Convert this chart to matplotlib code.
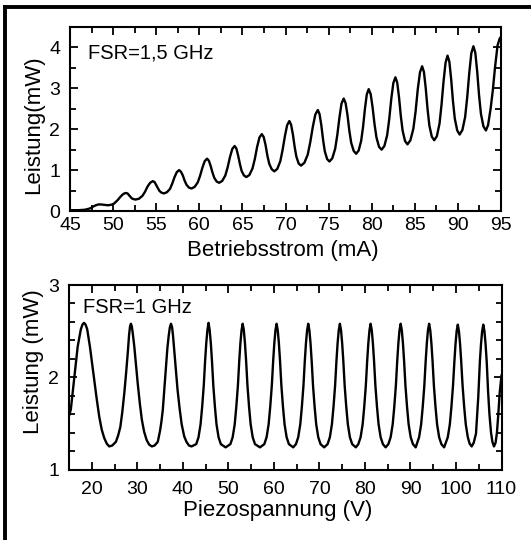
import matplotlib
matplotlib.use("Agg")
import matplotlib.pyplot as plt
from matplotlib.ticker import MultipleLocator, FixedLocator
from matplotlib.lines import Line2D

# ---------------- data ----------------
# Top panel: optical power vs. operating current
current_mA = [45.0, 46.0, 46.7, 47.1, 47.4, 47.7, 48.0, 48.3, 48.6, 49.0, 49.4, 49.7, 49.9,
              50.1, 50.3, 50.5, 50.7, 50.9, 51.1, 51.3, 51.5, 51.67, 51.83, 52.0, 52.16, 52.38, 52.6,
              53.0, 53.4, 53.7, 54.0, 54.3, 54.6, 54.8, 54.99, 55.19, 55.38, 55.64, 55.9,
              56.25, 56.6, 56.86, 57.13, 57.39, 57.65, 57.87, 58.09, 58.3, 58.52, 58.81, 59.1,
              59.46, 59.82, 60.09, 60.36, 60.63, 60.9, 61.11, 61.32, 61.53, 61.74, 62.02, 62.3,
              62.66, 63.02, 63.29, 63.56, 63.83, 64.1, 64.3, 64.5, 64.71, 64.91, 65.18, 65.45,
              65.81, 66.17, 66.44, 66.71, 66.98, 67.25, 67.47, 67.69, 67.9, 68.12, 68.41, 68.7,
              69.05, 69.4, 69.66, 69.93, 70.19, 70.45, 70.65, 70.86, 71.06, 71.26, 71.53, 71.8,
              72.19, 72.58, 72.87, 73.17, 73.46, 73.75, 73.95, 74.16, 74.36, 74.56, 74.83, 75.1,
              75.43, 75.76, 76.01, 76.26, 76.5, 76.75, 76.97, 77.19, 77.4, 77.62, 77.91, 78.2,
              78.49, 78.78, 79.0, 79.22, 79.43, 79.65, 79.88, 80.1, 80.33, 80.55, 80.85, 81.15,
              81.47, 81.79, 82.03, 82.27, 82.51, 82.75, 82.96, 83.17, 83.38, 83.59, 83.87, 84.15,
              84.49, 84.83, 85.09, 85.34, 85.6, 85.85, 86.06, 86.27, 86.48, 86.69, 86.97, 87.25,
              87.56, 87.87, 88.1, 88.34, 88.57, 88.8, 89.01, 89.22, 89.43, 89.64, 89.92, 90.2,
              90.52, 90.84, 91.08, 91.32, 91.56, 91.8, 92.02, 92.24, 92.45, 92.67, 92.96, 93.25,
              93.5, 93.8, 94.05, 94.3, 94.6, 94.85, 95.0]
power_top_mW = [0.02, 0.02, 0.03, 0.05, 0.07, 0.11, 0.14, 0.16, 0.16, 0.15, 0.14, 0.15, 0.16,
                0.18, 0.22, 0.26, 0.31, 0.36, 0.40, 0.43, 0.44, 0.43, 0.39, 0.35, 0.31, 0.29, 0.28,
                0.30, 0.37, 0.47, 0.60, 0.69, 0.73, 0.71, 0.64, 0.56, 0.49, 0.445, 0.43,
                0.46, 0.54, 0.67, 0.83, 0.95, 1.00, 0.96, 0.87, 0.74, 0.64, 0.57, 0.55,
                0.59, 0.70, 0.86, 1.06, 1.22, 1.28, 1.23, 1.10, 0.94, 0.81, 0.72, 0.69,
                0.735, 0.87, 1.07, 1.32, 1.52, 1.59, 1.53, 1.36, 1.15, 0.98, 0.87, 0.83,
                0.88, 1.04, 1.27, 1.57, 1.80, 1.88, 1.81, 1.61, 1.35, 1.15, 1.02, 0.97,
                1.03, 1.22, 1.49, 1.83, 2.10, 2.20, 2.11, 1.87, 1.57, 1.33, 1.16, 1.11,
                1.18, 1.38, 1.68, 2.06, 2.36, 2.47, 2.37, 2.09, 1.74, 1.46, 1.27, 1.21,
                1.29, 1.52, 1.86, 2.29, 2.63, 2.75, 2.64, 2.35, 1.97, 1.67, 1.47, 1.40,
                1.48, 1.72, 2.06, 2.51, 2.85, 2.98, 2.86, 2.54, 2.12, 1.80, 1.57, 1.50,
                1.59, 1.85, 2.24, 2.74, 3.13, 3.27, 3.14, 2.78, 2.32, 1.96, 1.71, 1.63,
                1.73, 2.01, 2.43, 2.97, 3.39, 3.54, 3.40, 3.00, 2.49, 2.09, 1.82, 1.73,
                1.83, 2.14, 2.60, 3.18, 3.63, 3.80, 3.65, 3.22, 2.68, 2.26, 1.97, 1.87,
                1.98, 2.30, 2.78, 3.38, 3.86, 4.03, 3.87, 3.41, 2.84, 2.38, 2.07, 1.97,
                2.10, 2.51, 2.95, 3.50, 4.05, 4.22, 4.26]

# Bottom panel: optical power vs. piezo voltage
piezo_V = [15.0, 15.4, 16.2, 16.9, 17.6, 17.95, 18.3, 18.65, 19.0, 19.6, 20.05, 20.55, 21.1, 21.65,
           22.2, 22.75, 23.3, 23.85, 24.5, 25.3, 25.8, 26.27, 26.7, 27.15, 27.55, 27.9, 28.2, 28.4,
           28.6, 28.8, 29.0, 29.35, 29.7, 30.1, 30.55, 31.0, 31.5, 32.05, 32.6, 33.2, 33.8, 34.5,
           35.0, 35.3, 35.6, 35.95, 36.3, 36.6, 36.9, 37.15, 37.4, 37.65, 37.85, 38.1, 38.45, 38.85,
           39.3, 39.75, 40.3, 40.8, 41.35, 41.9,
           42.95, 43.45, 43.9, 44.25, 44.6, 44.9, 45.15, 45.4, 45.65, 45.9, 46.15, 46.4, 46.7, 47.05,
           47.4, 47.85, 48.35, 49.4,
           50.45, 50.95, 51.4, 51.75, 52.1, 52.4, 52.65, 52.9, 53.15, 53.4, 53.65, 53.9, 54.2, 54.55,
           54.9, 55.35, 55.85, 56.95,
           57.9, 58.4, 58.85, 59.2, 59.55, 59.85, 60.1, 60.35, 60.6, 60.85, 61.1, 61.35, 61.65, 62.0,
           62.35, 62.8, 63.3, 64.25,
           64.85, 65.35, 65.8, 66.15, 66.5, 66.8, 67.05, 67.3, 67.55, 67.8, 68.05, 68.3, 68.6, 68.95,
           69.3, 69.75, 70.25, 71.05,
           71.8, 72.3, 72.75, 73.1, 73.45, 73.75, 74.0, 74.25, 74.5, 74.75, 75.0, 75.25, 75.55, 75.9,
           76.25, 76.7, 77.2, 78.0,
           78.55, 79.05, 79.5, 79.85, 80.2, 80.5, 80.75, 81.0, 81.25, 81.5, 81.75, 82.0, 82.3, 82.65,
           83.0, 83.45, 83.95, 84.55,
           85.15, 85.65, 86.1, 86.45, 86.8, 87.1, 87.35, 87.6, 87.85, 88.1, 88.35, 88.6, 88.9, 89.25,
           89.6, 90.05, 90.55, 91.15,
           91.9, 92.35, 92.7, 93.05, 93.35, 93.6, 93.85, 94.1, 94.35, 94.6, 94.85, 95.15, 95.5,
           95.85, 96.3, 96.8, 97.4,
           98.2, 98.65, 99.0, 99.35, 99.65, 99.9, 100.15, 100.4, 100.65, 100.9, 101.15, 101.45, 101.8,
           102.15, 102.6, 103.0, 103.45,
           103.9, 104.4, 104.9, 105.25, 105.5, 105.75, 106.0, 106.25, 106.5, 106.75, 107.05, 107.35,
           107.7, 108.0, 108.35, 108.7, 109.0, 109.3, 109.6, 110.0]
power_bot_mW = [1.58, 1.65, 2.01, 2.33, 2.52, 2.57, 2.59, 2.57, 2.52, 2.33, 2.16, 1.97, 1.76, 1.57,
                1.43, 1.34, 1.28, 1.25, 1.26, 1.30, 1.37, 1.46, 1.62, 1.83, 2.05, 2.26, 2.46, 2.55,
                2.58, 2.55, 2.48, 2.33, 2.14, 1.93, 1.72, 1.54, 1.41, 1.32, 1.27, 1.25, 1.26, 1.30,
                1.42, 1.52, 1.645, 1.87, 2.11, 2.31, 2.45, 2.54, 2.58, 2.54, 2.45, 2.30, 2.08, 1.86,
                1.66, 1.49, 1.36, 1.30, 1.26, 1.25,
                1.275, 1.35, 1.49, 1.68, 1.91, 2.18, 2.37, 2.51, 2.59, 2.51, 2.37, 2.18, 1.91, 1.68,
                1.49, 1.35, 1.275, 1.24,
                1.275, 1.35, 1.49, 1.68, 1.91, 2.18, 2.37, 2.51, 2.58, 2.51, 2.37, 2.18, 1.91, 1.68,
                1.49, 1.35, 1.275, 1.24,
                1.275, 1.35, 1.49, 1.68, 1.91, 2.18, 2.37, 2.51, 2.58, 2.51, 2.37, 2.18, 1.91, 1.68,
                1.49, 1.35, 1.275, 1.24,
                1.275, 1.35, 1.49, 1.68, 1.91, 2.18, 2.37, 2.51, 2.58, 2.51, 2.37, 2.18, 1.91, 1.68,
                1.49, 1.35, 1.275, 1.24,
                1.275, 1.35, 1.49, 1.68, 1.91, 2.18, 2.37, 2.51, 2.58, 2.51, 2.37, 2.18, 1.91, 1.68,
                1.49, 1.35, 1.275, 1.24,
                1.275, 1.35, 1.49, 1.68, 1.91, 2.18, 2.37, 2.51, 2.58, 2.51, 2.37, 2.18, 1.91, 1.68,
                1.49, 1.35, 1.275, 1.24,
                1.275, 1.35, 1.49, 1.68, 1.91, 2.18, 2.37, 2.51, 2.58, 2.51, 2.37, 2.18, 1.91, 1.68,
                1.49, 1.35, 1.275, 1.24,
                1.35, 1.49, 1.68, 1.91, 2.18, 2.37, 2.51, 2.58, 2.51, 2.37, 2.18, 1.91, 1.68,
                1.49, 1.35, 1.275, 1.24,
                1.35, 1.49, 1.68, 1.91, 2.17, 2.36, 2.50, 2.57, 2.50, 2.36, 2.17, 1.91, 1.68,
                1.49, 1.35, 1.28, 1.25,
                1.29, 1.39, 1.79, 2.17, 2.36, 2.50, 2.57, 2.50, 2.36, 2.17, 1.85, 1.60,
                1.40, 1.30, 1.25, 1.29, 1.40, 1.60, 1.83, 2.02]

top_xticks = [45, 50, 55, 60, 65, 70, 75, 80, 85, 90, 95]
top_yticks = [0, 1, 2, 3, 4]
bot_xticks = [20, 30, 40, 50, 60, 70, 80, 90, 100, 110]
bot_yticks = [1, 2, 3]

# ---------------- figure ----------------
plt.rcParams['font.family'] = ['Liberation Sans', 'DejaVu Sans']
plt.rcParams['axes.linewidth'] = 1.5

W, H = 531, 540
fig = plt.figure(figsize=(W / 100, H / 100), dpi=100)

def fx(px):
    return px / W

def fy(py):
    return 1 - py / H

# top panel
ax1 = fig.add_axes([fx(70), fy(211), fx(501) - fx(70), fy(27) - fy(211)])
ax1.plot(current_mA, power_top_mW, color='black', lw=1.7, solid_joinstyle='round')
ax1.set_xlim(45, 95)
ax1.set_ylim(0, 4.5)
ax1.xaxis.set_major_locator(FixedLocator(top_xticks))
ax1.xaxis.set_minor_locator(MultipleLocator(2.5))
ax1.yaxis.set_major_locator(FixedLocator(top_yticks))
ax1.yaxis.set_minor_locator(MultipleLocator(0.5))
ax1.tick_params(which='both', direction='in', top=True, right=True, width=1.3, labelsize=14)
ax1.tick_params(which='major', length=6)
ax1.tick_params(which='minor', length=4)
ax1.tick_params(axis='x', pad=4)
ax1.tick_params(axis='y', pad=7)
ax1.set_xlabel('Betriebsstrom (mA)', fontsize=16)
ax1.set_ylabel('Leistung(mW)', fontsize=16)
ax1.xaxis.set_label_coords((283 - 70) / 431, -0.155)
ax1.yaxis.set_label_coords((44 - 70) / 431, 0.47)
ax1.text(0.042, 0.857, 'FSR=1,5 GHz', transform=ax1.transAxes, fontsize=14.5,
         ha='left', va='center')

# bottom panel
ax2 = fig.add_axes([fx(69), fy(469.5), fx(501.5) - fx(69), fy(285) - fy(469.5)])
ax2.plot(piezo_V, power_bot_mW, color='black', lw=1.7, solid_joinstyle='round')
ax2.set_xlim(15, 110)
ax2.set_ylim(1, 3)
ax2.xaxis.set_major_locator(FixedLocator(bot_xticks))
ax2.xaxis.set_minor_locator(MultipleLocator(5))
ax2.yaxis.set_major_locator(FixedLocator(bot_yticks))
ax2.yaxis.set_minor_locator(MultipleLocator(0.2))
ax2.tick_params(which='both', direction='in', top=True, right=True, width=1.3, labelsize=14)
ax2.tick_params(which='major', length=6)
ax2.tick_params(which='minor', length=4)
ax2.tick_params(axis='x', pad=8)
ax2.tick_params(axis='y', pad=7)
ax2.set_xlabel('Piezospannung (V)', fontsize=16)
ax2.set_ylabel('Leistung (mW)', fontsize=16)
ax2.xaxis.set_label_coords((277.5 - 69) / 432.5, -0.165)
ax2.yaxis.set_label_coords((44 - 69) / 432.5, 0.585)
ax2.text(0.032, 0.88, 'FSR=1 GHz', transform=ax2.transAxes, fontsize=14.5,
         ha='left', va='center')

# outer frame (top and left edges only, as in the reference)
fig.add_artist(Line2D([fx(3), 1.0], [fy(6.5), fy(6.5)], transform=fig.transFigure,
                      color='black', lw=2.8, solid_capstyle='butt'))
fig.add_artist(Line2D([fx(5.3), fx(5.3)], [0.0, fy(5)], transform=fig.transFigure,
                      color='black', lw=2.8, solid_capstyle='butt'))

fig.savefig('out.png', dpi=100)
